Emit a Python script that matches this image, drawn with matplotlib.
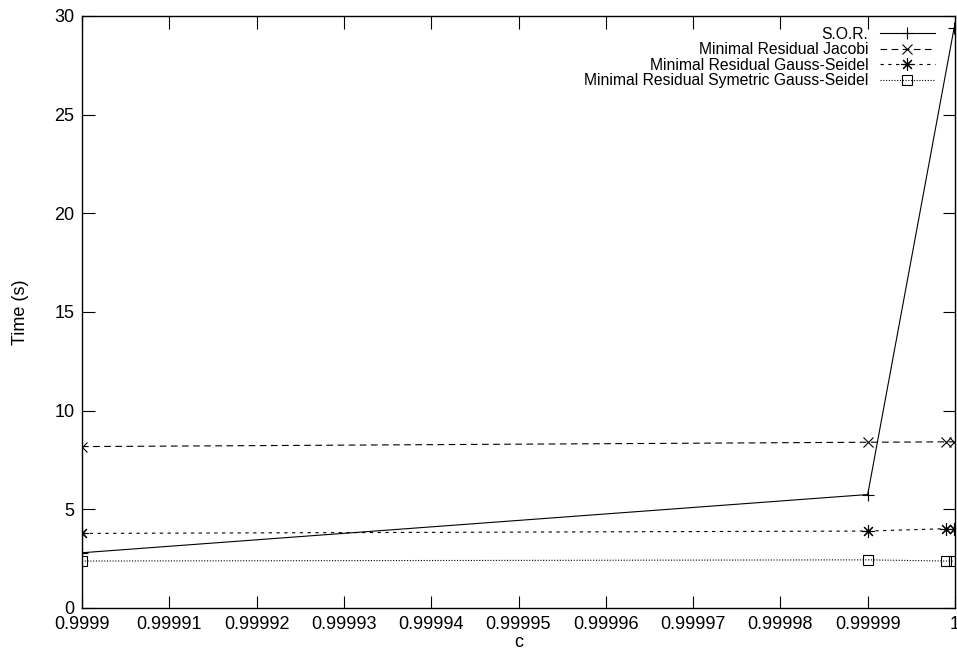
import matplotlib.pyplot as plt

plt.rcParams['font.family'] = ['Liberation Sans', 'DejaVu Sans']

# damping factor c for each run
c_values = [0.9999, 0.99999, 0.999999, 0.9999999]
c_sor = [0.9999, 0.99999, 0.9999999]

sor_time = [2.8, 5.75, 29.4]
mr_jacobi = [8.18, 8.4, 8.42, 8.42]
mr_gauss_seidel = [3.78, 3.9, 4.02, 4.02]
mr_sym_gauss_seidel = [2.38, 2.44, 2.38, 2.38]

xticks = [0.9999, 0.99991, 0.99992, 0.99993, 0.99994, 0.99995,
          0.99996, 0.99997, 0.99998, 0.99999, 1.0]
xtick_labels = ["0.9999", "0.99991", "0.99992", "0.99993", "0.99994", "0.99995",
                "0.99996", "0.99997", "0.99998", "0.99999", "1"]
yticks = [0, 5, 10, 15, 20, 25, 30]

fig = plt.figure(figsize=(9.57, 6.58), dpi=100)
ax = fig.add_axes([82 / 957, 1 - 608 / 658, (955 - 82) / 957, (608 - 16) / 658])

lw = 0.8
ax.plot(c_sor, sor_time, color='black', lw=lw, marker='+', ms=9, mew=0.8,
        label='S.O.R.')
ax.plot(c_values, mr_jacobi, color='black', lw=lw, ls=(0, (6, 4)), marker='x',
        ms=7, mew=0.8, label='Minimal Residual Jacobi')
ax.plot(c_values, mr_gauss_seidel, color='black', lw=lw, ls=(0, (3, 4)),
        marker=(8, 2, 0), ms=9, mew=0.8, label='Minimal Residual Gauss-Seidel')
ax.plot(c_values, mr_sym_gauss_seidel, color='black', lw=lw, ls=(0, (1, 1.5)),
        marker='s', ms=7, mew=0.8, mfc='none',
        label='Minimal Residual Symetric Gauss-Seidel')

ax.set_xlim(0.9999, 1.0)
ax.set_ylim(0, 30)
ax.set_xticks(xticks, xtick_labels)
ax.set_yticks(yticks)
ax.tick_params(direction='in', length=9, width=0.8, top=True, right=True,
               labelsize=13, pad=5.5, colors='black')
for s in ax.spines.values():
    s.set_linewidth(1.0)

ax.set_xlabel('c', fontsize=13, labelpad=1)
ax.set_ylabel('Time (s)', fontsize=13, labelpad=18)

leg = ax.legend(loc='upper right', bbox_to_anchor=(0.9895, 1.0005), frameon=False,
                markerfirst=False, fontsize=11.3, handlelength=3.5,
                labelspacing=0.03, handletextpad=0.75, borderaxespad=0.3)

fig.savefig('out.png', dpi=100)
